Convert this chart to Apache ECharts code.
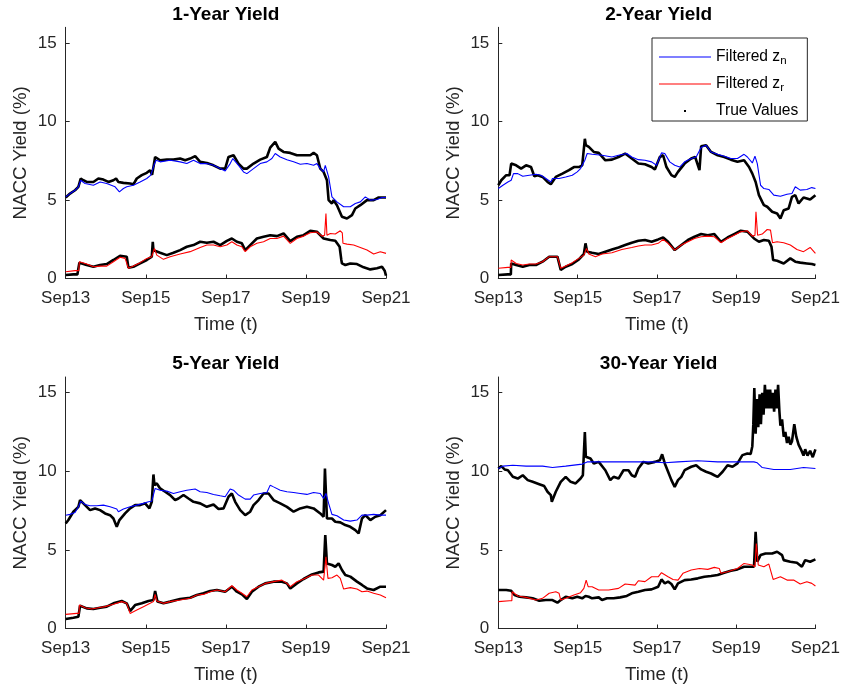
<!DOCTYPE html>
<html>
<head>
<meta charset="utf-8">
<script src="https://cdn.jsdelivr.net/npm/echarts@6/dist/echarts.min.js"></script>
<style>
  html, body { margin: 0; padding: 0; background: #ffffff; }
  #chart { width: 843px; height: 688px; }
</style>
</head>
<body>
<div id="chart"></div>
<script>
// x values are months elapsed since September 2013
const tickMonths = [0, 24, 48, 72, 96];
const tickLabels = ['Sep13', 'Sep15', 'Sep17', 'Sep19', 'Sep21'];
const yTicks = [0, 5, 10, 15];
const panelTitles = ['1-Year Yield', '2-Year Yield', '5-Year Yield', '30-Year Yield'];
const nameNominal = 'Filtered z_n';
const nameReal = 'Filtered z_r';
const nameTrue = 'True Values';

// ---- 1-year ----
const y1NomFiltered = [[0,5.20],[1.3,5.41],[2.8,5.62],[3.8,5.84],[4.5,6.26],[5.8,6.05],[8.3,5.94],[10.3,6.15],[12.3,6.05],[14.8,5.84],[16.1,5.52],[17.3,5.73],[18.3,5.84],[20.3,5.94],[22.3,6.15],[24.3,6.37],[25.5,6.58],[26.5,7.24],[27.1,7.53],[28.3,7.43],[31.3,7.53],[34.3,7.43],[36.3,7.32],[38.3,7.53],[40.3,7.32],[42.3,7.32],[44.3,7.21],[46.3,7.0],[47.8,6.85],[49.3,7.32],[50.1,7.64],[51.8,7.21],[53.3,6.79],[54.3,6.68],[56.3,7.0],[58.3,7.32],[60.3,7.43],[61.8,7.64],[62.8,7.96],[64.3,7.74],[66.3,7.57],[68.3,7.43],[70.3,7.28],[72.3,7.32],[74.3,7.21],[75.3,7.32],[76.3,7.0],[77.3,6.79],[77.8,7.21],[78.8,6.47],[79.8,5.2],[81.3,4.88],[83.3,4.57],[85.3,4.57],[86.8,4.78],[88.3,4.88],[89.8,5.2],[91.3,4.99],[93.3,5.03],[94.8,5.16],[96,5.16]];
const y1NomTrue = [[0,5.16],[1.3,5.41],[2.8,5.62],[3.8,5.84],[4.5,6.37],[5.3,6.26],[6.3,6.15],[8.3,6.15],[9.8,6.37],[11.3,6.30],[12.8,6.15],[14.3,6.26],[15.1,6.37],[15.8,6.15],[17.3,6.09],[19.3,6.05],[20.3,6.0],[21.3,6.37],[22.8,6.58],[24.3,6.73],[25.3,6.90],[25.9,6.6],[26.8,7.74],[27.3,7.85],[28.3,7.53],[30.3,7.57],[32.3,7.57],[34.3,7.64],[35.8,7.53],[37.3,7.64],[38.8,7.79],[40.3,7.43],[42.3,7.36],[44.3,7.21],[46.3,7.0],[47.8,7.0],[48.8,7.74],[50.3,7.85],[51.8,7.32],[53.3,7.0],[54.3,7.0],[56.3,7.32],[58.3,7.57],[60.3,7.74],[61.3,8.34],[62.8,8.70],[63.8,8.27],[65.3,8.06],[67.3,8.0],[69.3,7.85],[71.3,7.85],[73.3,7.85],[74.3,8.0],[75.3,7.85],[76.3,7.0],[77.3,6.79],[78.3,6.26],[78.8,4.99],[79.8,4.78],[80.3,4.99],[81.3,4.67],[82.8,3.93],[84.3,3.82],[85.8,4.04],[86.8,4.46],[88.3,4.67],[90.3,4.99],[92.3,4.99],[93.8,5.16],[96,5.16]];
const y1RealFiltered = [[0,0.43],[2.8,0.50],[3.9,0.50],[4.1,1.07],[6.3,0.92],[8.3,0.75],[10.3,0.79],[12.3,0.79],[14.3,1.07],[16.3,1.35],[17.8,1.28],[18.3,1.28],[18.8,0.65],[20.3,0.79],[22.3,1.01],[24.3,1.28],[25.8,1.39],[26.3,1.42],[26.6,1.92],[27.3,1.49],[29.3,1.22],[31.3,1.39],[34.3,1.56],[37.3,1.71],[40.3,1.98],[42.3,2.13],[44.3,2.13],[46.3,2.02],[48.3,2.13],[49.8,2.34],[51.3,2.13],[52.8,2.02],[53.8,1.71],[55.3,2.02],[57.3,2.24],[59.3,2.34],[61.3,2.55],[63.3,2.55],[65.3,2.70],[67.3,2.24],[69.3,2.55],[71.3,2.70],[73.3,2.91],[75.3,2.96],[76.8,2.70],[77.6,2.76],[78.0,4.14],[78.3,2.76],[79.3,2.87],[80.8,2.83],[82.3,3.04],[82.9,2.9],[83.1,2.24],[84.3,2.19],[86.3,2.13],[88.3,1.98],[90.3,1.81],[92.3,1.56],[94.3,1.71],[96,1.60]];
const y1RealTrue = [[0,0.22],[2.3,0.26],[3.5,0.26],[4.1,1.01],[6.3,0.86],[8.3,0.75],[10.3,0.86],[12.3,0.92],[14.3,1.18],[16.3,1.45],[18.3,1.39],[18.8,0.69],[20.3,0.75],[22.3,0.96],[24.3,1.18],[25.8,1.39],[26.1,2.34],[26.3,1.8],[26.8,1.71],[28.3,1.64],[30.3,1.49],[32.3,1.64],[34.3,1.81],[36.3,2.02],[38.3,2.13],[40.3,2.34],[42.3,2.28],[44.3,2.34],[46.3,2.13],[48.3,2.40],[49.8,2.55],[51.3,2.34],[52.8,2.24],[53.8,1.81],[55.3,2.13],[57.3,2.55],[59.3,2.66],[61.3,2.76],[63.3,2.70],[65.3,2.87],[67.3,2.38],[69.3,2.66],[71.3,2.76],[73.3,3.04],[75.3,2.98],[77.3,2.55],[79.3,2.45],[80.8,2.40],[82.1,2.02],[82.6,1.2],[82.8,0.96],[83.8,0.86],[85.3,0.96],[87.3,0.92],[89.3,0.71],[91.3,0.58],[93.3,0.65],[94.8,0.75],[95.6,0.5],[96,0.18]];

// ---- 2-year ----
const y2NomFiltered = [[0,5.73],[1.4,5.94],[2.9,6.15],[3.9,6.26],[4.6,6.68],[5.9,6.68],[7.4,6.51],[9.4,6.58],[11.4,6.64],[12.9,6.58],[14.4,6.37],[15.9,6.15],[16.4,6.37],[18.4,6.37],[20.4,6.47],[22.4,6.58],[23.9,6.79],[24.9,7.0],[26.2,7.53],[26.9,7.96],[28.4,7.91],[31.4,7.85],[34.4,7.74],[36.4,7.85],[38.9,7.96],[40.4,7.74],[42.4,7.57],[44.4,7.53],[46.4,7.43],[47.9,7.21],[49.4,8.0],[50.4,7.96],[51.9,7.43],[53.4,7.21],[54.9,7.1],[56.4,7.43],[58.4,7.64],[59.9,7.74],[61.4,8.34],[62.9,8.49],[64.4,8.06],[66.4,7.91],[68.4,7.79],[70.4,7.64],[72.4,7.64],[74.4,7.91],[75.4,7.74],[76.9,7.36],[77.7,7.79],[78.4,7.32],[79.4,5.94],[80.4,5.73],[81.9,5.67],[83.4,5.31],[85.4,5.24],[87.4,5.37],[88.9,5.41],[89.9,5.84],[91.4,5.63],[93.4,5.67],[94.9,5.79],[96,5.73]];
const y2NomTrue = [[0,5.94],[0.9,6.26],[2.4,6.58],[3.4,6.58],[3.9,7.32],[5.4,7.21],[6.9,7.0],[8.4,7.21],[9.9,7.1],[10.9,6.51],[11.9,6.58],[13.4,6.47],[14.9,6.15],[15.9,6.0],[17.4,6.47],[19.4,6.68],[21.4,6.90],[22.9,7.1],[24.4,7.1],[25.4,7.21],[26.0,7.3],[26.2,8.9],[26.5,8.49],[27.4,8.38],[28.9,8.06],[30.4,8.0],[32.4,7.53],[34.4,7.57],[36.4,7.74],[38.4,7.96],[40.4,7.64],[42.4,7.32],[44.4,7.28],[46.4,7.1],[47.4,6.94],[48.9,7.74],[49.9,7.85],[50.9,7.1],[52.4,6.58],[53.4,6.47],[54.4,6.79],[56.4,7.32],[58.4,7.64],[59.6,7.74],[60.9,6.90],[61.4,8.42],[62.9,8.49],[64.4,8.06],[66.4,7.85],[68.4,7.74],[70.4,7.57],[72.4,7.43],[74.4,7.53],[75.9,7.1],[76.9,6.68],[77.9,6.15],[78.9,5.31],[79.9,4.88],[80.4,4.67],[81.4,4.57],[82.9,4.25],[84.4,4.14],[85.4,3.82],[86.4,4.35],[87.9,4.46],[88.9,5.2],[89.9,5.31],[90.9,4.78],[92.4,5.16],[94.4,5.03],[96,5.31]];
const y2RealFiltered = [[0,0.65],[2.9,0.71],[3.8,0.71],[3.9,1.18],[5.4,0.96],[7.4,0.86],[9.4,0.92],[11.4,0.92],[13.4,1.07],[15.4,1.39],[17.9,1.39],[18.4,1.35],[18.9,0.65],[20.4,0.79],[22.4,1.01],[24.4,1.28],[25.9,1.49],[26.7,1.92],[27.4,1.56],[29.4,1.39],[31.4,1.56],[34.4,1.64],[37.4,1.85],[40.4,1.98],[42.4,2.07],[44.4,2.13],[46.4,2.13],[48.4,2.24],[49.9,2.49],[51.4,2.24],[53.4,1.81],[55.4,2.13],[57.4,2.34],[59.4,2.55],[61.4,2.66],[63.4,2.70],[65.4,2.66],[67.4,2.28],[69.4,2.55],[71.4,2.76],[73.4,2.98],[75.4,3.04],[76.9,2.70],[77.7,2.76],[78.0,4.25],[78.5,2.76],[79.9,2.83],[81.4,3.12],[82.4,3.08],[83.0,2.28],[84.4,2.34],[86.4,2.28],[88.4,2.13],[90.4,1.85],[92.4,1.71],[94.4,1.98],[96,1.60]];
const y2RealTrue = [[0,0.22],[2.9,0.26],[3.8,0.26],[3.9,0.96],[5.4,0.86],[7.4,0.75],[9.4,0.86],[11.4,0.86],[13.4,1.07],[15.4,1.39],[17.9,1.39],[18.4,1.35],[18.9,0.54],[20.4,0.75],[22.4,0.92],[24.4,1.22],[25.9,1.56],[26.4,2.24],[26.9,1.71],[28.4,1.64],[30.4,1.56],[32.4,1.71],[34.4,1.85],[36.4,1.98],[38.4,2.13],[40.4,2.28],[42.4,2.40],[44.4,2.45],[46.4,2.34],[48.4,2.49],[49.9,2.61],[51.4,2.34],[53.4,1.81],[55.4,2.13],[57.4,2.45],[59.4,2.66],[61.4,2.83],[63.4,2.76],[65.4,2.83],[67.4,2.34],[69.4,2.61],[71.4,2.83],[73.4,3.04],[75.4,2.98],[77.4,2.55],[78.9,2.34],[80.4,2.45],[81.9,2.40],[82.7,2.02],[83.2,1.18],[84.4,1.13],[86.4,0.96],[88.4,1.28],[89.9,1.07],[91.4,1.01],[93.4,0.96],[94.9,0.92],[96,0.86]];

// ---- 5-year ----
const y5NomFiltered = [[0,7.21],[1.3,7.26],[2.8,7.38],[3.8,7.74],[4.5,8.10],[5.8,7.89],[7.3,7.81],[9.3,7.81],[11.3,7.85],[13.3,7.74],[15.3,7.60],[15.8,7.43],[17.3,7.60],[19.3,7.74],[21.3,7.85],[23.3,7.96],[24.8,8.06],[25.8,8.10],[26.8,8.91],[28.3,8.80],[30.3,8.74],[32.3,8.59],[34.3,8.70],[36.3,8.80],[38.8,8.87],[40.3,8.70],[42.3,8.65],[44.3,8.53],[46.3,8.44],[47.8,8.38],[49.3,8.87],[50.3,8.80],[51.8,8.49],[53.8,8.23],[55.3,8.23],[56.3,8.49],[58.3,8.59],[60.3,8.65],[61.3,9.12],[62.3,9.01],[64.3,8.80],[66.3,8.70],[68.3,8.65],[70.3,8.59],[72.3,8.53],[74.3,8.65],[76.3,8.59],[77.3,8.27],[78.0,8.59],[78.8,7.96],[79.8,7.26],[81.3,7.17],[83.3,6.90],[85.3,6.83],[87.3,6.90],[88.8,7.21],[90.3,7.21],[92.3,7.26],[94.3,7.21],[96,7.21]];
const y5NomTrue = [[0,6.68],[0.8,6.90],[2.3,7.43],[3.8,7.74],[4.3,8.17],[5.8,7.85],[7.3,7.53],[8.8,7.64],[10.3,7.53],[11.8,7.32],[13.3,7.21],[14.3,7.0],[15.3,6.47],[16.1,6.90],[17.8,7.32],[19.3,7.64],[20.8,7.85],[22.3,7.85],[23.8,7.96],[25.1,7.64],[25.8,8.06],[26.3,9.80],[26.6,9.12],[27.3,9.23],[28.3,8.91],[29.8,8.70],[31.3,8.49],[32.8,8.17],[33.8,8.27],[35.3,8.49],[36.8,8.27],[38.3,8.06],[40.3,7.96],[42.3,7.74],[44.3,7.89],[45.8,7.60],[47.3,7.64],[48.8,8.38],[49.8,8.59],[50.8,8.06],[52.3,7.53],[53.8,7.21],[55.3,7.43],[56.3,7.85],[57.8,8.17],[59.3,8.59],[60.8,8.59],[62.3,8.17],[64.3,7.96],[66.3,7.74],[68.3,7.43],[70.3,7.64],[72.3,7.74],[74.3,7.64],[76.3,7.32],[77.3,7.11],[77.7,10.18],[77.9,9.12],[78.3,7.0],[79.8,7.0],[80.8,6.79],[82.3,6.75],[83.8,6.58],[85.3,6.47],[86.8,6.26],[87.8,6.05],[88.8,7.0],[89.8,7.21],[91.3,6.90],[92.8,7.11],[94.3,7.21],[96,7.53]];
const y5RealFiltered = [[0,0.90],[3.3,0.96],[4.0,0.96],[4.1,1.49],[5.8,1.32],[7.8,1.24],[9.8,1.32],[11.8,1.39],[14.3,1.54],[16.8,1.71],[18.3,1.60],[19.3,0.96],[21.3,1.18],[23.3,1.39],[25.3,1.60],[26.3,1.71],[26.8,2.17],[27.3,1.75],[29.3,1.60],[31.3,1.71],[34.3,1.81],[37.3,1.92],[39.3,2.13],[41.3,2.17],[43.3,2.34],[45.3,2.45],[47.8,2.34],[49.8,2.72],[51.3,2.45],[52.8,2.24],[54.3,2.02],[55.8,2.45],[57.8,2.66],[59.8,2.87],[62.3,2.98],[64.8,3.08],[66.3,2.87],[67.3,2.66],[69.3,2.98],[71.3,3.15],[73.8,3.40],[75.8,3.40],[77.3,3.08],[78.0,4.56],[78.6,3.19],[79.8,3.23],[81.3,3.40],[82.3,3.19],[83.3,2.51],[85.3,2.60],[87.3,2.51],[88.8,2.34],[90.3,2.38],[92.3,2.24],[94.3,2.13],[96,1.96]];
const y5RealTrue = [[0,0.60],[2.3,0.69],[3.8,0.75],[4.3,1.45],[6.3,1.28],[8.3,1.24],[10.3,1.32],[12.3,1.39],[14.3,1.60],[16.8,1.75],[18.3,1.60],[19.3,1.11],[20.8,1.49],[22.8,1.60],[24.8,1.75],[26.3,1.81],[26.8,2.38],[27.5,1.71],[29.3,1.60],[31.3,1.71],[34.3,1.88],[37.3,1.96],[39.3,2.13],[41.3,2.24],[43.3,2.38],[45.3,2.45],[47.8,2.34],[49.8,2.66],[51.3,2.34],[52.8,2.17],[54.3,1.88],[55.8,2.34],[57.8,2.66],[59.8,2.87],[62.3,2.98],[64.8,2.98],[66.3,2.87],[67.3,2.55],[69.3,2.87],[71.3,3.15],[73.8,3.44],[75.8,3.57],[77.3,3.62],[77.8,5.94],[78.3,4.14],[79.8,4.04],[80.8,3.93],[81.8,4.14],[82.8,3.72],[83.8,3.40],[85.3,3.30],[87.3,2.98],[88.8,2.77],[90.3,2.55],[92.3,2.45],[94.3,2.66],[96,2.66]];

// ---- 30-year ----
const y30NomFiltered = [[0,10.18],[1.4,10.33],[4.4,10.39],[8.4,10.33],[13.4,10.33],[16.4,10.24],[20.4,10.33],[25.4,10.46],[26.9,10.60],[30.4,10.60],[38.4,10.60],[46.4,10.60],[50.4,10.54],[54.4,10.60],[60.4,10.67],[66.4,10.60],[72.4,10.60],[77.4,10.60],[78.4,10.54],[79.9,10.24],[83.4,10.12],[88.4,10.12],[92.4,10.24],[96,10.18]];
const y30NomTrue = [[0,10.18],[0.9,10.33],[1.9,10.12],[2.9,10.07],[4.4,9.65],[5.9,9.54],[7.4,9.75],[8.9,9.44],[10.4,9.33],[12.4,9.18],[13.9,9.06],[14.9,8.70],[15.9,8.49],[16.2,8.06],[17.4,8.70],[18.9,9.33],[20.4,9.65],[21.9,9.33],[23.4,9.23],[24.9,9.54],[25.6,9.75],[26.2,12.50],[26.5,10.92],[26.9,10.82],[27.9,10.82],[28.9,10.50],[30.4,10.60],[32.4,10.07],[33.9,9.44],[34.9,9.65],[36.4,9.54],[37.9,10.07],[39.4,10.07],[40.4,9.75],[41.4,9.65],[42.4,10.18],[43.9,10.60],[45.4,10.50],[47.4,10.60],[48.9,10.71],[49.6,11.08],[50.4,10.50],[51.4,9.97],[52.4,9.44],[53.4,9.01],[54.4,9.44],[55.4,9.65],[56.4,10.07],[58.4,10.29],[59.9,10.39],[61.4,10.12],[62.9,9.97],[64.4,9.86],[65.4,9.75],[66.4,9.65],[67.9,9.97],[69.4,10.39],[70.9,10.29],[72.4,10.50],[73.9,11.03],[75.4,11.13],[76.4,11.1],[76.9,11.6],[77.2,13.0],[77.5,15.3],[77.9,12.4],[78.3,14.6],[78.7,12.8],[79.1,14.9],[79.5,13.0],[79.9,15.0],[80.3,13.6],[80.7,15.5],[81.1,14.0],[81.5,15.2],[81.9,14.0],[82.3,15.2],[82.7,14.0],[83.1,15.0],[83.5,13.8],[83.9,15.2],[84.3,14.0],[84.7,15.5],[85.1,13.8],[85.4,12.9],[85.9,13.3],[86.4,12.2],[86.9,12.5],[87.4,11.8],[87.9,12.2],[88.4,11.7],[88.9,11.9],[89.6,13.0],[90.2,12.2],[90.9,11.7],[91.6,11.4],[92.4,11.0],[92.9,11.4],[93.6,11.0],[94.4,11.3],[95.2,10.9],[96,11.4]];
const y30RealFiltered = [[0,1.71],[3.4,1.77],[4.1,1.77],[4.2,2.34],[5.9,2.07],[8.4,1.98],[11.4,1.81],[13.4,1.92],[15.4,2.24],[17.4,2.34],[18.4,2.24],[18.9,1.81],[20.4,1.92],[22.9,2.13],[24.9,2.28],[25.9,2.55],[26.6,3.08],[27.2,2.66],[28.4,2.66],[30.4,2.45],[33.4,2.45],[36.4,2.55],[38.4,2.83],[41.4,2.76],[42.4,3.04],[44.4,2.98],[46.4,3.29],[48.4,3.29],[49.4,3.55],[51.4,3.29],[52.9,3.12],[54.4,3.08],[55.9,3.51],[58.4,3.72],[60.9,3.82],[63.4,3.76],[65.4,3.89],[66.9,3.82],[67.4,3.51],[69.4,3.61],[72.4,3.82],[74.4,4.14],[76.9,4.04],[77.7,3.93],[78.1,5.41],[78.7,4.04],[80.4,3.93],[81.9,4.10],[83.2,3.12],[85.4,3.29],[87.4,3.08],[89.4,3.08],[91.4,2.83],[93.4,2.98],[94.9,2.87],[96,2.70]];
const y30RealTrue = [[0,2.45],[2.4,2.45],[3.9,2.40],[4.9,2.13],[6.4,2.02],[8.4,1.98],[10.4,1.92],[12.4,1.77],[14.4,1.81],[16.4,1.81],[17.9,1.64],[18.9,1.81],[20.4,2.02],[22.4,1.92],[23.9,2.02],[25.4,1.92],[26.4,2.07],[27.4,2.02],[28.4,1.92],[30.4,1.98],[31.4,1.81],[32.9,1.92],[34.9,1.92],[36.9,1.98],[38.9,2.07],[40.4,2.24],[42.4,2.34],[44.4,2.45],[46.4,2.49],[48.4,2.66],[49.4,3.12],[50.4,2.87],[51.4,2.98],[52.4,2.83],[53.4,2.49],[54.4,2.87],[56.4,3.08],[58.4,3.12],[60.4,3.19],[62.4,3.29],[64.4,3.34],[66.4,3.40],[68.4,3.55],[70.4,3.67],[72.4,3.76],[74.4,3.93],[76.4,3.93],[77.4,3.93],[77.9,6.15],[78.4,4.25],[79.4,4.67],[80.9,4.77],[82.9,4.77],[84.4,4.88],[85.9,4.67],[86.4,4.35],[88.4,4.25],[90.4,4.18],[91.9,3.93],[92.9,4.35],[94.4,4.25],[96,4.40]];

const panels = [
  { nf: y1NomFiltered, rf: y1RealFiltered, nt: y1NomTrue, rt: y1RealTrue },
  { nf: y2NomFiltered, rf: y2RealFiltered, nt: y2NomTrue, rt: y2RealTrue },
  { nf: y5NomFiltered, rf: y5RealFiltered, nt: y5NomTrue, rt: y5RealTrue },
  { nf: y30NomFiltered, rf: y30RealFiltered, nt: y30NomTrue, rt: y30RealTrue }
];

const FONT = '"Liberation Sans", Arial, Helvetica, sans-serif';
const AXIS_COLOR = '#262626';

// 2x2 layout of the plotting boxes (pixels)
const boxes = [
  { left: 65.7, top: 27.3, width: 320.3, height: 251.2 },
  { left: 498.3, top: 27.3, width: 320.7, height: 251.2 },
  { left: 65.7, top: 377.0, width: 320.3, height: 251.5 },
  { left: 498.3, top: 377.0, width: 320.7, height: 251.5 }
];

const grid = [], xAxis = [], yAxis = [], title = [], series = [];

boxes.forEach((b, i) => {
  grid.push({ left: b.left, top: b.top, width: b.width, height: b.height, containLabel: false });
  title.push({
    text: panelTitles[i],
    left: b.left + b.width / 2,
    top: b.top - 22.3,
    textAlign: 'center',
    padding: 0,
    textStyle: { fontFamily: FONT, fontSize: 19, fontWeight: 'bold', color: '#000000' }
  });
  xAxis.push({
    type: 'value', gridIndex: i, min: 0, max: 96, interval: 24,
    axisLine: { show: true, onZero: false, lineStyle: { color: AXIS_COLOR, width: 1 } },
    axisTick: { show: true, inside: true, length: 4, lineStyle: { color: AXIS_COLOR, width: 1 } },
    axisLabel: {
      fontFamily: FONT, fontSize: 17, color: AXIS_COLOR, margin: 11,
      formatter: v => { const k = tickMonths.indexOf(v); return k >= 0 ? tickLabels[k] : ''; }
    },
    splitLine: { show: false },
    name: 'Time (t)', nameLocation: 'middle', nameGap: 37,
    nameTextStyle: { fontFamily: FONT, fontSize: 18.7, color: AXIS_COLOR }
  });
  yAxis.push({
    type: 'value', gridIndex: i, min: 0, max: 16,
    axisLine: { show: true, onZero: false, lineStyle: { color: AXIS_COLOR, width: 1 } },
    axisTick: { show: true, inside: true, length: 4, customValues: yTicks, lineStyle: { color: AXIS_COLOR, width: 1 } },
    axisLabel: { fontFamily: FONT, fontSize: 17, color: AXIS_COLOR, margin: 9, customValues: yTicks },
    splitLine: { show: false },
    name: 'NACC Yield (%)', nameLocation: 'middle', nameGap: 35, nameRotate: 90,
    nameTextStyle: { fontFamily: FONT, fontSize: 18.7, color: AXIS_COLOR }
  });

  const p = panels[i];
  const base = { type: 'line', xAxisIndex: i, yAxisIndex: i, symbol: 'none', showSymbol: false, silent: true, animation: false };
  series.push(Object.assign({}, base, { name: nameTrue, data: p.nt, z: 1, color: '#000000', lineStyle: { color: '#000000', width: 2.6 } }));
  series.push(Object.assign({}, base, { name: nameTrue, data: p.rt, z: 1, color: '#000000', lineStyle: { color: '#000000', width: 2.6 } }));
  series.push(Object.assign({}, base, { name: nameNominal, data: p.nf, z: 2, color: '#0000ff', lineStyle: { color: '#0000ff', width: 1.1 } }));
  series.push(Object.assign({}, base, { name: nameReal, data: p.rf, z: 2, color: '#ff0000', lineStyle: { color: '#ff0000', width: 1.1 } }));
});

const legendText = {
  [nameNominal]: '{t|Filtered z}{s|n}',
  [nameReal]: '{t|Filtered z}{s|r}',
  [nameTrue]: '{t|True Values}'
};

// legend glyphs: a thin horizontal stroke for the filtered lines, a small dot for the observed values
const lineIcon = 'path://M0,0M52,14M0,6.5h52v1.1h-52z';
const dotIcon = 'path://M0,0M52,14M25,6h2v2h-2z';

const option = {
  backgroundColor: '#ffffff',
  animation: false,
  title: title,
  grid: grid,
  xAxis: xAxis,
  yAxis: yAxis,
  legend: {
    orient: 'vertical',
    left: 652, top: 38,
    padding: [11, 9, 2, 7],
    itemGap: 9,
    itemWidth: 52,
    itemHeight: 14,
    selectedMode: false,
    backgroundColor: '#ffffff',
    borderColor: AXIS_COLOR,
    borderWidth: 1,
    borderRadius: 0,
    data: [
      { name: nameNominal, icon: lineIcon },
      { name: nameReal, icon: lineIcon },
      { name: nameTrue, icon: dotIcon }
    ],
    formatter: name => legendText[name],
    textStyle: {
      fontFamily: FONT, color: '#000000',
      rich: {
        t: { fontFamily: FONT, fontSize: 15.6, lineHeight: 20, color: '#000000' },
        s: { fontFamily: FONT, fontSize: 11.5, lineHeight: 5, verticalAlign: 'bottom', color: '#000000' }
      }
    }
  },
  series: series
};

const chart = echarts.init(document.getElementById('chart'), null, { renderer: 'canvas' });
chart.setOption(option);
</script>
</body>
</html>
